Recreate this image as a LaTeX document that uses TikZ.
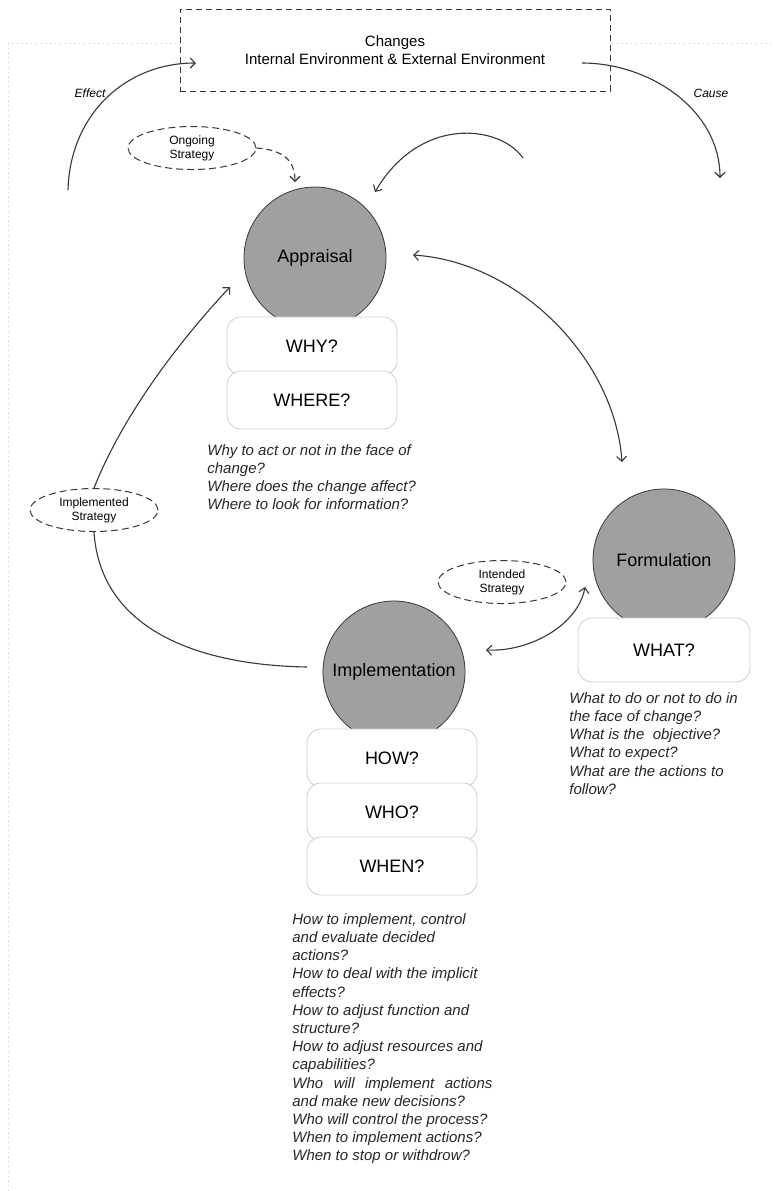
\documentclass[tikz,border=0pt]{standalone}
\usepackage{fontspec}
\setmainfont{Liberation Sans}
\usetikzlibrary{shapes.geometric,arrows.meta}
\definecolor{ballgray}{RGB}{160,160,160}
\definecolor{linegray}{RGB}{55,55,55}
\definecolor{boxgray}{RGB}{205,205,205}
\definecolor{framegray}{RGB}{200,200,200}

\begin{document}
\begin{tikzpicture}[x=0.5pt,y=-0.5pt,
  >={Straight Barb[length=2.5pt,width=5pt]},
  ball/.style={circle, draw=linegray, fill=ballgray, minimum size=71pt, inner sep=0pt, font=\fontsize{9}{11}\selectfont},
  qbox/.style={rectangle, rounded corners=7pt, draw=boxgray, fill=white, minimum width=85pt, minimum height=29pt, font=\fontsize{9}{11}\selectfont},
  strat/.style={ellipse, draw=linegray, dash pattern=on 3.5pt off 2pt, line width=0.5pt, minimum width=64pt, minimum height=21.5pt, inner sep=0pt, align=center, font=\fontsize{6}{7}\selectfont},
  questions/.style={anchor=north west, inner sep=0pt, align=left, text=black!85, font=\fontsize{7.5}{9.1}\selectfont\itshape},
  flow/.style={draw=linegray, line width=0.55pt},
  tag/.style={font=\fontsize{6}{7}\selectfont\itshape},
]
\useasboundingbox (0,0) rectangle (774,1191);
% Frame (dotted, behind everything)
\draw[framegray, dotted] (8,1191) -- (8,43) -- (774,43);
% Changes box
\node[draw=linegray, dash pattern=on 3pt off 2pt, fill=white, minimum width=215pt, minimum height=41pt, align=center, font=\fontsize{7.5}{9}\selectfont] (changes) at (395,50) {Changes\\Internal Environment \& External Environment};
% Stage circles
\node[ball] (appraisal) at (315,258) {Appraisal};
\node[ball] (formulation) at (664,560) {Formulation};
\node[ball] (implementation) at (394,672) {Implementation};
% Question boxes
\node[qbox] (why) at (312,346) {WHY?};
\node[qbox] (where) at (312,400) {WHERE?};
\node[qbox, minimum width=86pt, minimum height=32pt] (what) at (664,650) {WHAT?};
\node[qbox] (how) at (392,758) {HOW?};
\node[qbox] (who) at (392,812) {WHO?};
\node[qbox] (when) at (392,866) {WHEN?};
% Strategy ellipses
\node[strat] (ongoing) at (192,148) {Ongoing\\Strategy};
\node[strat] (implemented) at (94,510) {Implemented\\Strategy};
\node[strat] (intended) at (502,582) {Intended\\Strategy};
% Free ends of the connectors
\coordinate (effectStart) at (68,190);
\coordinate (effectEnd) at (196,63);
\coordinate (causeStart) at (582,63);
\coordinate (causeEnd) at (720,178);
\coordinate (ongoingEnd) at (295,182);
\coordinate (loopStart) at (523,158);
\coordinate (loopEnd) at (375,192);
\coordinate (appraisalIn) at (413,255);
\coordinate (formulationIn) at (622,462);
\coordinate (implementedIn) at (230,287);
\coordinate (implementationIn) at (307,667);
\coordinate (intendedA) at (585,587);
\coordinate (intendedB) at (486,650);
% Connectors
\draw[flow,->] (effectStart) .. controls (70,115) and (125,63) .. (effectEnd);
\draw[flow,->] (causeStart) .. controls (650,63) and (720,110) .. (causeEnd);
\draw[flow,dash pattern=on 3pt off 2pt,->] (ongoing.east) .. controls (285,150) and (295,162) .. (ongoingEnd);
\draw[flow,->] (loopStart) .. controls (500,125) and (420,115) .. (loopEnd);
\draw[flow,<->] (appraisalIn) .. controls (520,262) and (615,360) .. (formulationIn);
\draw[flow,->] (implemented.north) .. controls (125,410) and (185,335) .. (implementedIn);
\draw[flow] (implemented.south) .. controls (100,625) and (190,665) .. (implementationIn);
\draw[flow,<->] (intendedB) .. controls (530,652) and (578,625) .. (intendedA);
% Labels
\node[tag] (effect) at (90,93) {Effect};
\node[tag] (cause) at (711,93) {Cause};
% Questions
\node[questions] (whyText) at (207,444) {Why to act or not in the face of\\change?\\Where does the change affect?\\Where to look for information?};
\node[questions] (whatText) at (569,692) {What to do or not to do in\\the face of change?\\What is the\ \ objective?\\What to expect?\\What are the actions to\\follow?};
\node[questions] (howText) at (292,913) {How to implement, control\\and evaluate decided\\actions?\\How to deal with the implicit\\effects?\\How to adjust function and\\structure?\\How to adjust resources and\\capabilities?\\\makebox[100pt][s]{Who will implement actions}\\and make new decisions?\\Who will control the process?\\When to implement actions?\\When to stop or withdrow?};
\end{tikzpicture}
\end{document}
